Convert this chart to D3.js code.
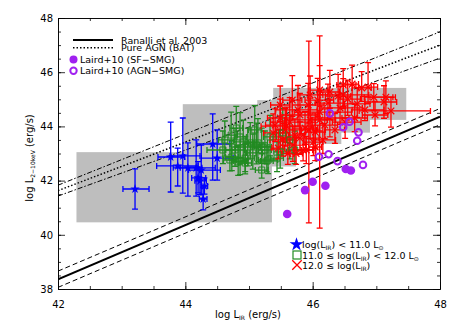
<!DOCTYPE html>
<html>
<head>
<meta charset="utf-8">
<script src="https://cdn.jsdelivr.net/npm/d3@7"></script>
<style>
  body { margin: 0; background: #fff; }
  svg text { font-family: "DejaVu Sans", "Liberation Sans", sans-serif; fill: #000; }
</style>
</head>
<body>
<svg width="458" height="327"></svg>
<script>
// [x, y, x-err minus, x-err plus, y-err minus, y-err plus]
var bluePts = [
  [43.21, 41.69, 0.19, 0.22, 0.74, 0.74],
  [43.77, 42.87, 0.20, 0.22, 1.29, 1.29],
  [43.96, 42.91, 0.20, 0.27, 1.37, 1.40],
  [44.43, 43.35, 0.25, 0.27, 1.33, 1.11],
  [44.50, 42.83, 0.25, 0.25, 0.81, 1.04],
  [44.04, 42.47, 0.23, 0.22, 1.04, 0.92],
  [44.17, 42.47, 0.25, 0.30, 1.04, 1.03],
  [44.25, 42.39, 0.20, 0.30, 0.92, 0.92],
  [44.23, 41.99, 0.08, 0.10, 0.50, 0.50],
  [44.28, 41.32, 0.06, 0.06, 0.40, 0.44],
  [43.88, 42.54, 0.33, 0.32, 0.74, 0.66],
  [44.30, 41.80, 0.05, 0.05, 0.30, 0.30],
  [44.20, 42.10, 0.10, 0.12, 0.55, 0.60]
]
var greenPts = [
  [44.72, 43.68, 0.10, 0.10, 0.80, 0.85],
  [44.86, 43.61, 0.08, 0.10, 0.75, 0.90],
  [44.78, 43.13, 0.15, 0.15, 0.60, 0.80],
  [44.59, 43.13, 0.25, 0.20, 0.50, 0.70],
  [44.73, 42.87, 0.10, 0.10, 0.50, 0.60],
  [44.91, 43.43, 0.15, 0.15, 0.70, 0.80],
  [45.02, 43.39, 0.10, 0.10, 0.60, 0.75],
  [45.12, 43.32, 0.10, 0.10, 0.70, 0.80],
  [45.20, 43.24, 0.15, 0.15, 0.60, 0.70],
  [45.28, 42.72, 0.10, 0.10, 0.40, 0.60],
  [45.44, 42.83, 0.10, 0.10, 0.50, 0.60],
  [44.94, 42.83, 0.15, 0.15, 0.50, 0.80],
  [44.83, 42.69, 0.10, 0.10, 0.50, 0.60],
  [45.06, 43.02, 0.10, 0.15, 0.60, 0.70],
  [45.49, 43.06, 0.10, 0.10, 0.60, 0.80],
  [45.33, 43.61, 0.10, 0.10, 0.70, 0.80],
  [45.53, 43.76, 0.10, 0.10, 0.60, 0.90],
  [44.98, 43.24, 0.20, 0.20, 0.70, 0.70],
  [45.14, 43.39, 0.15, 0.15, 0.70, 0.90],
  [45.25, 43.13, 0.10, 0.10, 0.50, 0.70],
  [45.30, 42.76, 0.15, 0.15, 0.50, 0.50],
  [44.70, 42.76, 0.10, 0.10, 0.40, 0.60],
  [44.94, 42.65, 0.10, 0.10, 0.40, 0.70],
  [44.86, 42.72, 0.10, 0.10, 0.50, 0.60],
  [45.20, 42.39, 0.10, 0.10, 0.30, 0.60],
  [45.64, 43.50, 0.10, 0.10, 0.70, 0.90],
  [45.72, 43.13, 0.10, 0.10, 0.50, 0.70],
  [44.62, 43.50, 0.10, 0.15, 0.60, 0.70],
  [44.80, 43.94, 0.10, 0.10, 0.70, 0.80],
  [45.09, 43.87, 0.10, 0.10, 0.70, 0.90]
]
var redPts = [
  [45.41, 44.05, 0.15, 0.15, 0.60, 0.60],
  [45.49, 44.31, 0.20, 0.20, 0.70, 0.70],
  [45.57, 43.87, 0.15, 0.25, 0.60, 0.80],
  [45.64, 44.16, 0.30, 0.40, 0.80, 0.90],
  [45.72, 43.68, 0.10, 0.15, 0.70, 0.60],
  [45.80, 44.42, 0.30, 0.30, 0.70, 0.80],
  [45.88, 43.94, 0.20, 0.20, 0.60, 0.60],
  [45.96, 44.24, 0.40, 0.40, 0.70, 0.80],
  [46.04, 43.79, 0.15, 0.15, 0.60, 0.70],
  [46.11, 44.53, 0.40, 0.50, 0.70, 0.80],
  [46.19, 44.05, 0.20, 0.20, 0.50, 0.60],
  [46.27, 44.31, 0.30, 0.30, 0.70, 0.70],
  [46.35, 43.87, 0.15, 0.15, 0.50, 0.60],
  [46.43, 44.68, 0.30, 0.35, 0.60, 0.80],
  [46.51, 44.16, 0.20, 0.25, 0.60, 0.60],
  [45.53, 43.50, 0.20, 0.20, 0.60, 0.60],
  [45.69, 43.31, 0.20, 0.20, 0.60, 0.70],
  [45.85, 43.13, 0.10, 0.15, 0.40, 0.60],
  [46.01, 43.42, 0.15, 0.15, 0.50, 0.60],
  [46.16, 43.50, 0.15, 0.20, 0.50, 0.60],
  [45.46, 43.20, 0.10, 0.10, 0.40, 0.70],
  [45.61, 43.00, 0.10, 0.10, 0.40, 0.60],
  [45.77, 44.61, 0.35, 0.30, 0.60, 0.90],
  [45.93, 44.79, 0.25, 0.25, 0.70, 0.80],
  [46.08, 44.97, 0.20, 0.25, 0.60, 0.80],
  [46.24, 44.86, 0.20, 0.25, 0.60, 0.70],
  [46.40, 45.12, 0.20, 0.20, 0.60, 0.80],
  [46.48, 45.53, 0.10, 0.20, 0.80, 0.60],
  [46.62, 45.56, 0.10, 0.10, 0.70, 0.70],
  [46.77, 45.42, 0.15, 0.15, 0.50, 0.60],
  [46.87, 45.45, 0.15, 0.15, 0.60, 0.90],
  [46.96, 45.08, 0.15, 0.30, 0.50, 0.50],
  [47.15, 45.08, 0.25, 0.15, 0.60, 0.60],
  [47.12, 44.90, 0.30, 0.20, 0.60, 0.60],
  [47.23, 44.57, 0.50, 0.62, 0.60, 0.50],
  [46.70, 44.83, 0.20, 0.20, 0.50, 0.60],
  [46.55, 45.01, 0.15, 0.20, 0.60, 0.70],
  [46.48, 45.16, 0.40, 0.40, 0.50, 0.60],
  [46.82, 44.61, 0.20, 0.30, 0.40, 0.50],
  [46.98, 44.42, 0.20, 0.20, 0.40, 0.50],
  [46.66, 44.31, 0.20, 0.20, 0.50, 0.50],
  [45.80, 43.57, 0.30, 0.30, 0.60, 0.60],
  [45.59, 44.01, 0.40, 0.40, 0.60, 0.70],
  [45.74, 43.00, 0.10, 0.10, 0.40, 0.60],
  [45.90, 43.13, 0.20, 0.15, 0.50, 0.50],
  [45.38, 43.76, 0.15, 0.20, 0.60, 0.70],
  [45.49, 44.79, 0.15, 0.15, 0.60, 0.70],
  [45.68, 44.97, 0.15, 0.15, 0.60, 0.90],
  [45.96, 45.16, 0.20, 0.20, 0.70, 0.70],
  [46.11, 45.34, 0.15, 0.15, 0.60, 0.90],
  [46.27, 45.27, 0.15, 0.15, 0.60, 0.80],
  [46.04, 43.24, 0.10, 0.10, 0.50, 0.60],
  [45.94, 43.87, 0.12, 0.12, 3.43, 3.28],
  [46.11, 44.24, 0.12, 0.12, 3.99, 3.10]
]
// Laird+10 submm galaxies
var sfSmg = [[45.60, 40.77], [45.88, 41.65], [46.00, 41.96], [46.20, 41.81], [46.52, 42.43], [46.60, 42.37]]
var agnSmg = [[46.27, 44.48], [46.58, 44.17], [46.48, 43.97], [46.72, 43.78], [46.70, 43.47],
  [46.10, 42.88], [46.25, 42.97], [46.39, 42.72], [46.79, 42.58]]
// shaded regions [x0, x1, y0, y1]
var grayBoxes = [
  [42.29, 45.36, 40.46, 43.05],
  [43.96, 45.74, 42.52, 44.82],
  [45.13, 45.40, 43.60, 44.97],
  [45.38, 47.47, 44.24, 45.42],
  [45.38, 46.90, 43.77, 44.24],
  [45.74, 46.45, 43.35, 43.80]
]
// relations
var ranalli = {slope: 1.0, icpt: -3.64, scatter: 0.3}
var bat = {x: [42, 48], mid: [41.63, 47.00], hi: [41.83, 47.49], lo: [41.43, 46.52]}

var svg = d3.select('svg')
var x = d3.scaleLinear().domain([42, 48]).range([58, 440])
var y = d3.scaleLinear().domain([38, 48]).range([289, 18])

svg.append('clipPath').attr('id', 'clip')
  .append('rect').attr('x', 58).attr('y', 18).attr('width', 382).attr('height', 271)
var plot = svg.append('g').attr('clip-path', 'url(#clip)')

plot.selectAll('rect.box').data(grayBoxes).enter().append('rect')
  .attr('class', 'box')
  .attr('x', function(d) { return x(d[0]) })
  .attr('width', function(d) { return x(d[1]) - x(d[0]) })
  .attr('y', function(d) { return y(d[3]) })
  .attr('height', function(d) { return y(d[2]) - y(d[3]) })
  .attr('fill', '#bebebe')

// Ranalli relation and scatter
var rl = [0, ranalli.scatter, -ranalli.scatter]
plot.selectAll('line.ran').data(rl).enter().append('line')
  .attr('x1', x(42)).attr('x2', x(48))
  .attr('y1', function(d) { return y(42 * ranalli.slope + ranalli.icpt + d) })
  .attr('y2', function(d) { return y(48 * ranalli.slope + ranalli.icpt + d) })
  .attr('stroke', '#000')
  .attr('stroke-width', function(d) { return d === 0 ? 2 : 1 })
  .attr('stroke-dasharray', function(d) { return d === 0 ? null : '5,3' })

// pure AGN relation
var batLines = [{v: bat.mid, dash: '1.5,2', w: 1.5}, {v: bat.hi, dash: '5,2,1.5,2', w: 1}, {v: bat.lo, dash: '5,2,1.5,2', w: 1}]
plot.selectAll('line.bat').data(batLines).enter().append('line')
  .attr('x1', x(bat.x[0])).attr('x2', x(bat.x[1]))
  .attr('y1', function(d) { return y(d.v[0]) })
  .attr('y2', function(d) { return y(d.v[1]) })
  .attr('stroke', '#000')
  .attr('stroke-width', function(d) { return d.w })
  .attr('stroke-dasharray', function(d) { return d.dash })

function drawErrors(data, color) {
  var g = plot.append('g').attr('stroke', color).attr('stroke-width', 1.3).attr('fill', 'none')
  var cap = 3
  data.forEach(function(d) {
    var cx = x(d[0]), cy = y(d[1])
    var xl = x(d[0] - d[2]), xr = x(d[0] + d[3])
    var yt = y(d[1] + d[5]), yb = y(d[1] - d[4])
    g.append('path').attr('d',
      'M' + xl + ',' + cy + 'H' + xr +
      'M' + xl + ',' + (cy - cap) + 'V' + (cy + cap) +
      'M' + xr + ',' + (cy - cap) + 'V' + (cy + cap) +
      'M' + cx + ',' + yt + 'V' + yb +
      'M' + (cx - cap) + ',' + yt + 'H' + (cx + cap) +
      'M' + (cx - cap) + ',' + yb + 'H' + (cx + cap))
  })
  return g
}

drawErrors(bluePts, '#0000ff')
drawErrors(greenPts, '#228b22')
drawErrors(redPts, '#ff0000')

plot.selectAll('path.bstar').data(bluePts).enter().append('path')
  .attr('d', d3.symbol().type(d3.symbolStar).size(28))
  .attr('transform', function(d) { return 'translate(' + x(d[0]) + ',' + y(d[1]) + ')' })
  .attr('fill', '#0000ff')
plot.selectAll('path.gsq').data(greenPts).enter().append('path')
  .attr('d', d3.symbol().type(d3.symbolSquare).size(36))
  .attr('transform', function(d) { return 'translate(' + x(d[0]) + ',' + y(d[1]) + ')' })
  .attr('fill', 'none').attr('stroke', '#228b22').attr('stroke-width', 1)
plot.selectAll('path.rx').data(redPts).enter().append('path')
  .attr('d', d3.symbol().type(d3.symbolTimes).size(30))
  .attr('transform', function(d) { return 'translate(' + x(d[0]) + ',' + y(d[1]) + ')' })
  .attr('fill', 'none').attr('stroke', '#ff0000').attr('stroke-width', 1.3)

var purple = '#a020f0'
plot.selectAll('circle.sf').data(sfSmg).enter().append('circle')
  .attr('cx', function(d) { return x(d[0]) }).attr('cy', function(d) { return y(d[1]) })
  .attr('r', 4.3).attr('fill', purple)
plot.selectAll('circle.agn').data(agnSmg).enter().append('circle')
  .attr('cx', function(d) { return x(d[0]) }).attr('cy', function(d) { return y(d[1]) })
  .attr('r', 3.3).attr('fill', 'none').attr('stroke', purple).attr('stroke-width', 2)

// axes
var major = [42, 44, 46, 48]
var minorX = d3.range(42, 48.01, 0.5)
var majorY = [38, 40, 42, 44, 46, 48]
var minorY = d3.range(38, 48.01, 0.5)

function styleAxis(g) {
  g.selectAll('path, line').attr('stroke', '#000').attr('stroke-width', 0.8)
  g.selectAll('text').style('font-size', '10px').attr('fill', '#000')
}
svg.append('g').attr('transform', 'translate(0,289)')
  .call(d3.axisBottom(x).tickValues(minorX).tickSize(-3).tickFormat('').tickSizeOuter(0)).call(styleAxis)
svg.append('g').attr('transform', 'translate(0,289)')
  .call(d3.axisBottom(x).tickValues(major).tickSize(-7).tickPadding(12).tickFormat(d3.format('d')).tickSizeOuter(0)).call(styleAxis)
svg.append('g').attr('transform', 'translate(0,18)')
  .call(d3.axisTop(x).tickValues(minorX).tickSize(-3).tickFormat('').tickSizeOuter(0)).call(styleAxis)
svg.append('g').attr('transform', 'translate(0,18)')
  .call(d3.axisTop(x).tickValues(major).tickSize(-7).tickFormat('').tickSizeOuter(0)).call(styleAxis)
svg.append('g').attr('transform', 'translate(58,0)')
  .call(d3.axisLeft(y).tickValues(minorY).tickSize(-3).tickFormat('').tickSizeOuter(0)).call(styleAxis)
svg.append('g').attr('transform', 'translate(58,0)')
  .call(d3.axisLeft(y).tickValues(majorY).tickSize(-7).tickPadding(5).tickFormat(d3.format('d')).tickSizeOuter(0)).call(styleAxis)
svg.append('g').attr('transform', 'translate(440,0)')
  .call(d3.axisRight(y).tickValues(minorY).tickSize(-3).tickFormat('').tickSizeOuter(0)).call(styleAxis)
svg.append('g').attr('transform', 'translate(440,0)')
  .call(d3.axisRight(y).tickValues(majorY).tickSize(-7).tickFormat('').tickSizeOuter(0)).call(styleAxis)

// axis titles
var xt = svg.append('text').attr('x', 248).attr('y', 318).attr('text-anchor', 'middle').style('font-size', '10px')
xt.append('tspan').text('log L')
xt.append('tspan').attr('dy', 2).style('font-size', '6px').text('IR')
xt.append('tspan').attr('dy', -2).text(' (erg/s)')
var yt = svg.append('text').attr('transform', 'translate(33,158) rotate(-90)').attr('text-anchor', 'middle').style('font-size', '10px')
yt.append('tspan').text('log L')
yt.append('tspan').attr('dy', 2).style('font-size', '6px').text('2\u221210keV')
yt.append('tspan').attr('dy', -2).text(' (erg/s)')

// top-left legend
var lg = svg.append('g').style('font-size', '9.5px')
lg.append('line').attr('x1', 73).attr('x2', 113).attr('y1', 40).attr('y2', 40).attr('stroke', '#000').attr('stroke-width', 2)
lg.append('line').attr('x1', 73).attr('x2', 113).attr('y1', 47.7).attr('y2', 47.7).attr('stroke', '#000').attr('stroke-width', 1.5).attr('stroke-dasharray', '1.5,2')
lg.append('text').attr('x', 121).attr('y', 43.5).text('Ranalli et al. 2003')
lg.append('text').attr('x', 121).attr('y', 51).text('Pure AGN (BAT)')
lg.append('circle').attr('cx', 73.5).attr('cy', 59.5).attr('r', 4).attr('fill', purple)
lg.append('text').attr('x', 80).attr('y', 62.5).text('Laird+10 (SF\u2212SMG)')
lg.append('circle').attr('cx', 73.5).attr('cy', 70.8).attr('r', 3.2).attr('fill', 'none').attr('stroke', purple).attr('stroke-width', 2)
lg.append('text').attr('x', 80).attr('y', 74).text('Laird+10 (AGN\u2212SMG)')

// bottom-right legend
var lb = svg.append('g').style('font-size', '9.5px')
lb.append('path').attr('d', d3.symbol().type(d3.symbolStar).size(60)).attr('transform', 'translate(296.5,244.5)').attr('fill', '#0000ff')
lb.append('rect').attr('x', 293).attr('y', 251).attr('width', 8).attr('height', 8).attr('fill', 'none').attr('stroke', '#228b22').attr('stroke-width', 1.2)
lb.append('path').attr('d', d3.symbol().type(d3.symbolTimes).size(60)).attr('transform', 'translate(297,265)').attr('fill', 'none').attr('stroke', '#ff0000').attr('stroke-width', 1.3)
function legendText(yy, parts) {
  var t = lb.append('text').attr('x', 302).attr('y', yy)
  parts.forEach(function(p) {
    var s = t.append('tspan').text(p[0])
    if (p[1] === 'sub') s.attr('dy', 2).style('font-size', '6px')
    if (p[1] === 'up') s.attr('dy', -2)
  })
}
legendText(248, [['log(L'], ['IR', 'sub'], [')  <  11.0  L', 'up'], ['\u2299', 'sub']])
legendText(258.5, [['11.0 \u2264 log(L'], ['IR', 'sub'], [') < 12.0 L', 'up'], ['\u2299', 'sub']])
legendText(268.5, [['12.0 \u2264 log(L'], ['IR', 'sub'], [')', 'up']])
</script>
</body>
</html>
